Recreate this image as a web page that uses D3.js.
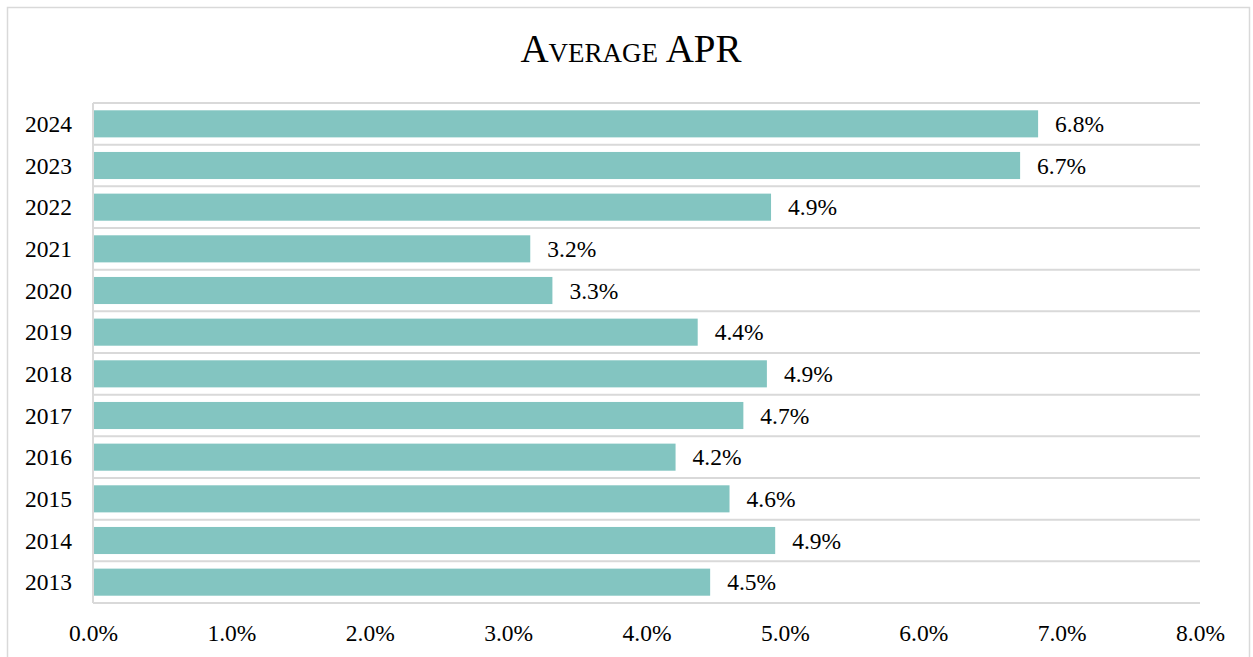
<!DOCTYPE html>
<html>
<head>
<meta charset="utf-8">
<script src="https://cdn.jsdelivr.net/npm/d3@7"></script>
<style>
  html, body { margin: 0; padding: 0; background: #fff; }
  svg { display: block; font-family: "Liberation Serif", "Times New Roman", serif; }
</style>
</head>
<body>
<div id="chart"></div>
<script>
// data, top bar first
const years = ["2024", "2023", "2022", "2021", "2020", "2019", "2018", "2017", "2016", "2015", "2014", "2013"];
const aprValues = [6.83, 6.70, 4.90, 3.16, 3.32, 4.37, 4.87, 4.70, 4.21, 4.60, 4.93, 4.46];
const aprLabels = ["6.8%", "6.7%", "4.9%", "3.2%", "3.3%", "4.4%", "4.9%", "4.7%", "4.2%", "4.6%", "4.9%", "4.5%"];
const xTicks = [0, 1, 2, 3, 4, 5, 6, 7, 8];

const width = 1253;
const height = 657;
const margin = { top: 103, right: 53, bottom: 54, left: 93 };

const svg = d3.select("#chart")
  .append("svg")
  .attr("width", width)
  .attr("height", height);

// outer chart frame
svg.append("rect")
  .attr("x", 7.5)
  .attr("y", 7.5)
  .attr("width", width - 11)
  .attr("height", height + 10)
  .attr("fill", "#fff")
  .attr("stroke", "#d9d9d9")
  .attr("stroke-width", 1.5);

svg.append("text")
  .attr("x", 631)
  .attr("y", 62)
  .attr("text-anchor", "middle")
  .style("font-size", "39px")
  .style("font-variant", "small-caps")
  .style("fill", "#000")
  .text("Average APR");

const x = d3.scaleLinear()
  .domain([0, 8])
  .range([margin.left, width - margin.right]);

const y = d3.scaleBand()
  .domain(years)
  .range([margin.top, height - margin.bottom])
  .paddingInner(0.35)
  .paddingOuter(0.175);

const g = svg.append("g");

// horizontal gridlines at band edges
const step = y.step();
const edges = d3.range(years.length + 1).map(i => margin.top + i * step);
g.selectAll("line.grid")
  .data(edges)
  .enter()
  .append("line")
  .attr("class", "grid")
  .attr("x1", margin.left)
  .attr("x2", x(8))
  .attr("y1", d => d)
  .attr("y2", d => d)
  .attr("stroke", "#d9d9d9")
  .attr("stroke-width", 2);

// left axis line
g.append("line")
  .attr("x1", margin.left)
  .attr("x2", margin.left)
  .attr("y1", margin.top)
  .attr("y2", height - margin.bottom)
  .attr("stroke", "#d9d9d9")
  .attr("stroke-width", 2);

g.selectAll("rect.bar")
  .data(years)
  .enter()
  .append("rect")
  .attr("class", "bar")
  .attr("x", x(0) + 1)
  .attr("y", d => y(d))
  .attr("width", (d, i) => x(aprValues[i]) - x(0) - 1)
  .attr("height", y.bandwidth())
  .attr("fill", "#83c5c1");

// value labels
g.selectAll("text.val")
  .data(years)
  .enter()
  .append("text")
  .attr("class", "val")
  .attr("x", (d, i) => x(aprValues[i]) + 17)
  .attr("y", d => y(d) + y.bandwidth() / 2 + 8)
  .style("font-size", "23.5px")
  .text((d, i) => aprLabels[i]);

// year labels
g.selectAll("text.year")
  .data(years)
  .enter()
  .append("text")
  .attr("class", "year")
  .attr("x", 72)
  .attr("y", d => y(d) + y.bandwidth() / 2 + 8)
  .attr("text-anchor", "end")
  .style("font-size", "23.5px")
  .text(d => d);

// x axis tick labels
const xAxis = d3.axisBottom(x)
  .tickValues(xTicks)
  .tickSize(0)
  .tickPadding(0)
  .tickFormat(d => d.toFixed(1) + "%");

const ax = svg.append("g")
  .attr("transform", "translate(0," + (height - margin.bottom) + ")")
  .call(xAxis);
ax.select(".domain").remove();
ax.selectAll("text")
  .attr("dy", null)
  .attr("y", 38)
  .style("font-family", "Liberation Serif, serif")
  .style("font-size", "23.5px")
  .style("fill", "#000");
</script>
</body>
</html>
